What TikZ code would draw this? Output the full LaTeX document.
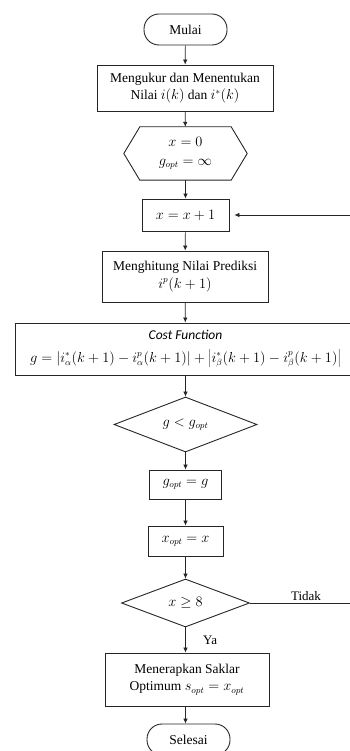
\documentclass[tikz,border=0pt]{standalone}
\usepackage{fontspec}
\setmainfont{Liberation Serif}
\newfontfamily\carlito{Carlito}
\usetikzlibrary{shapes.geometric,arrows.meta}
\tikzset{
  boxline/.style={draw=black!85, line width=0.9pt},
  proc/.style={boxline, rectangle, align=center, inner sep=2pt},
  term/.style={boxline, rectangle, rounded corners=15pt, align=center},
  decis/.style={boxline, diamond, aspect=2.6, inner sep=0pt, align=center},
  arr/.style={draw=black!85, line width=0.7pt, -{Latex[length=5pt,width=4.5pt]}},
  lbl/.style={font=\fontsize{13}{15}\selectfont}
}
\begin{document}
\begin{tikzpicture}[x=1pt,y=-1pt,font=\fontsize{13.5}{17.5}\selectfont]
\useasboundingbox (0,0) rectangle (350,751);
\clip (0,0) rectangle (350,751);
\fill[white] (0,0) rectangle (350,751);

\node[term, minimum width=83pt, minimum height=31pt] (start) at (185.5,29.5) {Mulai};
\node[proc, minimum width=176pt, minimum height=46pt] (meas) at (185,88) {Mengukur dan Menentukan\\Nilai $i(k)$ dan $i^{*}(k)$};
\node[align=center, minimum width=123pt, minimum height=53pt, inner sep=0pt] (hex) at (185.5,153.5) {$x=0$\\[1pt]$g_{opt}=\infty$};
\draw[boxline] (hex.west) -- ([xshift=16pt]hex.north west) -- ([xshift=-16pt]hex.north east) -- (hex.east) -- ([xshift=-16pt]hex.south east) -- ([xshift=16pt]hex.south west) -- cycle;
\node[proc, minimum width=87pt, minimum height=32pt] (inc) at (185.5,215) {$x=x+1$};
\node[proc, minimum width=166pt, minimum height=51pt] (pred) at (185,276.5) {Menghitung Nilai Prediksi\\$i^{p}(k+1)$};
\node[proc, minimum width=341pt, minimum height=52pt] (cost) at (185.5,349) {{\carlito\itshape Cost Function}\\[5pt]$g=\left|i^{*}_{\alpha}(k+1)-i^{p}_{\alpha}(k+1)\right|+\left|i^{*}_{\beta}(k+1)-i^{p}_{\beta}(k+1)\right|$};
\node[decis, minimum width=143pt, minimum height=55pt] (dec1) at (185.5,424.5) {$g<g_{opt}$};
\node[proc, minimum width=72pt, minimum height=29pt] (gopt) at (185.5,484.5) {$g_{opt}=g$};
\node[proc, minimum width=75pt, minimum height=30pt] (xopt) at (185.5,541) {$x_{opt}=x$};
\node[decis, minimum width=128pt, minimum height=48pt] (dec2) at (185.5,603) {$x\geq 8$};
\node[proc, minimum width=164pt, minimum height=53pt] (apply) at (187,679.5) {Menerapkan Saklar\\Optimum $s_{opt}=x_{opt}$};
\node[term, minimum width=83pt, minimum height=31pt] (stop) at (188.5,739.5) {Selesai};

\coordinate (loop) at (362,0);

\draw[arr] (start) -- (meas);
\draw[arr] (meas) -- (hex);
\draw[arr] (hex) -- (inc);
\draw[arr] (inc) -- (pred);
\draw[arr] (pred) -- (cost);
\draw[arr] (cost) -- (dec1);
\draw[arr] (dec1) -- (gopt);
\draw[arr] (gopt) -- (xopt);
\draw[arr] (xopt) -- (dec2);
\draw[arr] (dec2.south) -- (dec2.south |- apply.north) node[lbl, pos=0.5, right=14pt] {Ya};
\draw[arr] (apply.south -| dec2.south) -- (stop.north -| dec2.south);
\draw[arr, shorten >=5pt] (dec2.east) -- (dec2.east -| loop) node[lbl, pos=0.5, above=-1pt] {Tidak} |- (inc.east);
\end{tikzpicture}
\end{document}
